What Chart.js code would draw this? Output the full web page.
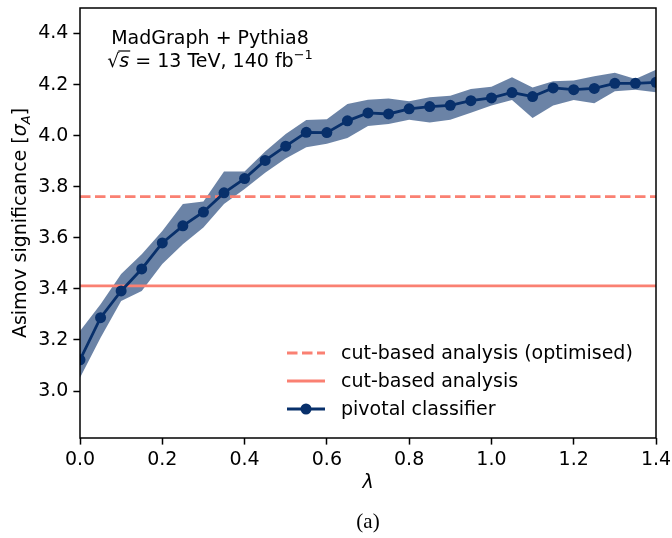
<!DOCTYPE html>
<html>
<head>
<meta charset="utf-8">
<script src="https://cdn.jsdelivr.net/npm/chart.js@4.4.0/dist/chart.umd.min.js"></script>
<style>
  html, body { margin: 0; padding: 0; background: #fff; }
  #wrap { width: 672px; height: 538px; }
</style>
</head>
<body>
<div id="wrap"><canvas id="myChart" width="672" height="538"></canvas></div>
<script>
// lambda values of the scan
var lambdas = [0.00, 0.05, 0.10, 0.15, 0.20, 0.25, 0.30, 0.35, 0.40, 0.45,
               0.50, 0.55, 0.60, 0.65, 0.70, 0.75, 0.80, 0.85, 0.90, 0.95,
               1.00, 1.05, 1.10, 1.15, 1.20, 1.25, 1.30, 1.35, 1.40];
// pivotal classifier significance + band
var pivotal = [3.122, 3.287, 3.392, 3.478, 3.580, 3.647, 3.701, 3.776, 3.832, 3.903,
               3.959, 4.013, 4.012, 4.058, 4.089, 4.085, 4.105, 4.114, 4.119, 4.137,
               4.148, 4.169, 4.153, 4.187, 4.180, 4.185, 4.205, 4.205, 4.209];
var pivotalUpper = [3.235, 3.340, 3.458, 3.536, 3.627, 3.732, 3.742, 3.860, 3.860, 3.938,
                    4.007, 4.061, 4.064, 4.124, 4.141, 4.146, 4.135, 4.150, 4.156, 4.183,
                    4.192, 4.229, 4.189, 4.213, 4.216, 4.233, 4.246, 4.222, 4.258];
var pivotalLower = [3.052, 3.209, 3.353, 3.392, 3.497, 3.575, 3.640, 3.732, 3.791, 3.855,
                    3.911, 3.955, 3.968, 3.991, 4.038, 4.046, 4.062, 4.052, 4.062, 4.090,
                    4.118, 4.140, 4.069, 4.118, 4.140, 4.127, 4.174, 4.180, 4.170];
// cut-based references
var cutOptimised = 3.761;
var cutBased = 3.412;

var xTicks = [0.0, 0.2, 0.4, 0.6, 0.8, 1.0, 1.2, 1.4];
var yTicks = [3.0, 3.2, 3.4, 3.6, 3.8, 4.0, 4.2, 4.4];

var navy = '#08306b';
var bandColor = 'rgba(8, 48, 107, 0.6)';
var salmon = '#fa8072';
var FONT = '"DejaVu Sans", sans-serif';
var FS = 19;

function pts(ys) {
    return lambdas.map(function (x, i) { return { x: x, y: ys[i] }; });
}
function hline(y) {
    return [{ x: xTicks[0], y: y }, { x: xTicks[xTicks.length - 1], y: y }];
}

// spines on all four sides
var framePlugin = {
    id: 'frame',
    afterDatasetsDraw: function (chart) {
        var a = chart.chartArea, ctx = chart.ctx;
        ctx.save();
        ctx.strokeStyle = '#000';
        ctx.lineWidth = 1.5;
        ctx.strokeRect(a.left, a.top, a.right - a.left, a.bottom - a.top);
        ctx.restore();
    }
};

// labels, annotation, legend, caption
var textPlugin = {
    id: 'texts',
    afterDraw: function (chart) {
        var ctx = chart.ctx, a = chart.chartArea;
        var cx = (a.left + a.right) / 2;
        ctx.save();
        ctx.fillStyle = '#000';
        ctx.textBaseline = 'alphabetic';

        // annotation
        ctx.font = FS + 'px ' + FONT;
        ctx.textAlign = 'center';
        ctx.fillText('MadGraph + Pythia8', 210, 44);

        ctx.textAlign = 'left';
        var norm = FS + 'px ' + FONT;
        var ital = 'italic ' + FS + 'px ' + FONT;
        var sup = Math.round(FS * 0.7) + 'px ' + FONT;
        ctx.font = norm; var wRoot = ctx.measureText('\u221A').width;
        ctx.font = ital; var wS = ctx.measureText('s').width;
        ctx.font = norm; var mid = ' = 13 TeV, 140 fb'; var wMid = ctx.measureText(mid).width;
        ctx.font = sup; var wSup = ctx.measureText('\u22121').width;
        var x = 210 - (wRoot + wS + wMid + wSup) / 2, y = 67;
        ctx.font = norm; ctx.fillText('\u221A', x, y); x += wRoot;
        ctx.font = ital; ctx.fillText('s', x, y);
        ctx.beginPath(); ctx.lineWidth = 1.2; ctx.strokeStyle = '#000';
        ctx.moveTo(x - 1, y - 16); ctx.lineTo(x + wS + 1, y - 16); ctx.stroke();
        x += wS;
        ctx.font = norm; ctx.fillText(mid, x, y); x += wMid;
        ctx.font = sup; ctx.fillText('\u22121', x, y - 8);

        // legend
        var rows = [
            { y: 353, color: salmon, dash: [10.5, 4.5], marker: false, label: 'cut-based analysis (optimised)' },
            { y: 381, color: salmon, dash: [], marker: false, label: 'cut-based analysis' },
            { y: 409, color: navy, dash: [], marker: true, label: 'pivotal classifier' }
        ];
        rows.forEach(function (r) {
            ctx.save();
            ctx.strokeStyle = r.color;
            ctx.lineWidth = 2.8;
            ctx.setLineDash(r.dash);
            ctx.beginPath(); ctx.moveTo(287, r.y); ctx.lineTo(325, r.y); ctx.stroke();
            if (r.marker) {
                ctx.fillStyle = r.color;
                ctx.beginPath(); ctx.arc(306, r.y, 5.5, 0, Math.PI * 2); ctx.fill();
            }
            ctx.restore();
            ctx.font = norm;
            ctx.textBaseline = 'middle';
            ctx.fillText(r.label, 341, r.y + 1);
        });

        // x axis title
        ctx.textBaseline = 'alphabetic';
        ctx.textAlign = 'center';
        ctx.font = ital;
        ctx.fillText('\u03BB', cx, 488);

        // caption
        ctx.font = '21px "Liberation Serif", serif';
        ctx.fillText('(a)', cx, 528);

        // y axis title
        ctx.save();
        ctx.translate(26, (a.top + a.bottom) / 2);
        ctx.rotate(-Math.PI / 2);
        ctx.textAlign = 'left';
        var p1 = 'Asimov significance [';
        var sub = Math.round(FS * 0.7) + 'px ' + FONT;
        var subI = 'italic ' + sub;
        ctx.font = norm; var w1 = ctx.measureText(p1).width;
        ctx.font = ital; var w2 = ctx.measureText('\u03C3').width;
        ctx.font = subI; var w3 = ctx.measureText('A').width;
        ctx.font = norm; var w4 = ctx.measureText(']').width;
        var lx = -(w1 + w2 + w3 + w4) / 2;
        ctx.font = norm; ctx.fillText(p1, lx, 0); lx += w1;
        ctx.font = ital; ctx.fillText('\u03C3', lx, 0); lx += w2;
        ctx.font = subI; ctx.fillText('A', lx, 4); lx += w3;
        ctx.font = norm; ctx.fillText(']', lx, 0);
        ctx.restore();

        ctx.restore();
    }
};

var tickFont = { family: FONT, size: FS };

function axisGrid() {
    return {
        display: true,
        drawOnChartArea: false,
        drawTicks: true,
        tickLength: 6.6,
        tickWidth: 1.5,
        tickColor: '#000'
    };
}

var ctx = document.getElementById('myChart').getContext('2d');
var myChart = new Chart(ctx, {
    type: 'line',
    data: {
        datasets: [
            {
                label: 'pivotal classifier',
                data: pts(pivotal),
                borderColor: navy,
                backgroundColor: navy,
                borderWidth: 2.8,
                pointRadius: 5.5,
                pointBorderWidth: 0,
                pointBackgroundColor: navy,
                fill: false,
                tension: 0,
                order: 0
            },
            {
                label: 'cut-based analysis (optimised)',
                data: hline(cutOptimised),
                borderColor: salmon,
                borderWidth: 2.8,
                borderDash: [10.5, 4.5],
                pointRadius: 0,
                fill: false,
                order: 1
            },
            {
                label: 'cut-based analysis',
                data: hline(cutBased),
                borderColor: salmon,
                borderWidth: 2.8,
                pointRadius: 0,
                fill: false,
                order: 1
            },
            {
                label: 'upper',
                data: pts(pivotalUpper),
                borderWidth: 0,
                borderColor: 'rgba(0,0,0,0)',
                pointRadius: 0,
                backgroundColor: bandColor,
                fill: '+1',
                tension: 0,
                order: 2
            },
            {
                label: 'lower',
                data: pts(pivotalLower),
                borderWidth: 0,
                borderColor: 'rgba(0,0,0,0)',
                pointRadius: 0,
                fill: false,
                tension: 0,
                order: 2
            }
        ]
    },
    options: {
        responsive: false,
        animation: false,
        devicePixelRatio: 1,
        layout: { padding: { top: 8, right: 16, left: 0, bottom: 0 } },
        plugins: {
            legend: { display: false },
            tooltip: { enabled: false }
        },
        scales: {
            x: {
                type: 'linear',
                min: 0,
                max: 1.4,
                afterBuildTicks: function (s) { s.ticks = xTicks.map(function (v) { return { value: v }; }); },
                afterFit: function (s) {
                    s.height = 100;
                    s.paddingLeft = 0; s.paddingRight = 0;
                },
                ticks: {
                    color: '#000',
                    font: tickFont,
                    padding: 4,
                    maxRotation: 0,
                    callback: function (v) { return Number(v).toFixed(1); }
                },
                grid: axisGrid(),
                border: { display: false }
            },
            y: {
                type: 'linear',
                min: 2.816,
                max: 4.5,
                afterBuildTicks: function (s) { s.ticks = yTicks.map(function (v) { return { value: v }; }); },
                afterFit: function (s) {
                    s.width = 80;
                    s.paddingTop = 0; s.paddingBottom = 0;
                },
                ticks: {
                    color: '#000',
                    font: tickFont,
                    padding: 5,
                    callback: function (v) { return Number(v).toFixed(1); }
                },
                grid: axisGrid(),
                border: { display: false }
            }
        }
    },
    plugins: [framePlugin, textPlugin]
});
</script>
</body>
</html>
